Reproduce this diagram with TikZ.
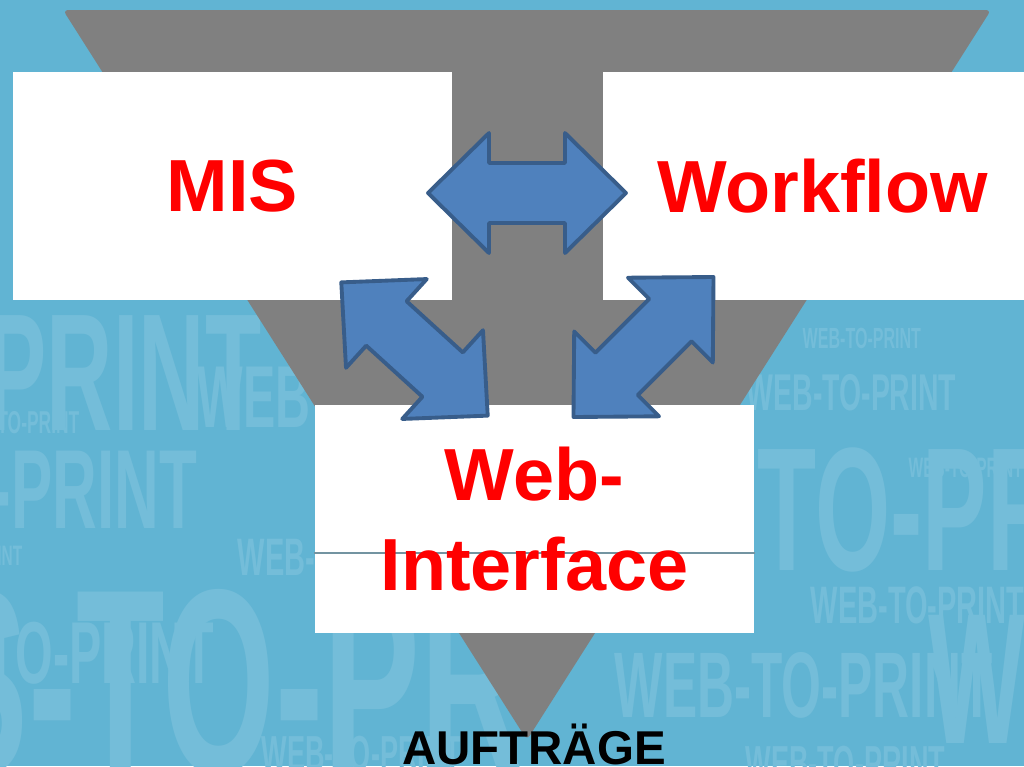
\documentclass[tikz,border=0pt]{standalone}
\usepackage{fontspec}
\setmainfont{Liberation Sans}
\newfontfamily\wmfont{Liberation Sans}[FakeStretch=0.55]
\usepackage{tikz}
\usetikzlibrary{positioning}

\definecolor{bgblue}{HTML}{61B4D3}
\definecolor{wmblue}{HTML}{74BDD9}
\definecolor{funnelgray}{HTML}{808080}
\definecolor{arrfill}{HTML}{4F81BD}
\definecolor{arredge}{HTML}{385D8A}
\definecolor{labelred}{HTML}{FF0000}

\begin{document}
\begin{tikzpicture}[
    x=0.01cm, y=-0.01cm,
    box/.style={rectangle, fill=white, inner sep=0pt, minimum width=4.39cm, minimum height=2.28cm},
    boxlabel/.style={text=labelred, font=\bfseries\fontsize{21}{25.5}\selectfont, align=center},
    wm/.style={text=wmblue, inner sep=0pt},
    funnel/.style={fill=funnelgray, rounded corners=1.5pt},
    seam/.style={draw=gray!60!bgblue, line width=0.4pt},
    blockarrow/.style={fill=arrfill, draw=arredge, line width=1.1pt, line join=round},
    dblarrow/.pic={
        \path[blockarrow] (-99,0) -- (-38,-60) -- (-38,-30) -- (38,-30) -- (38,-60)
            -- (99,0) -- (38,60) -- (38,30) -- (-38,30) -- (-38,60) -- cycle;
    }
]
    % Background
    \clip (0,0) rectangle (1024,766);
    \fill[bgblue] (0,0) rectangle (1024,766);
    \foreach \x/\y/\s/\a/\t [count=\i] in {
        -15/430/47.5/base west/PRINT,
        197/427/25/base west/WEB,
        80/433/9/base east/WEB-TO-PRINT,
        -10/528/32/base west/-PRINT,
        23/565/8/base east/WEB-TO-PRINT,
        237/575/15/base west/WEB-TO-PRINT,
        -69/773/75/base west/S-TO-PR,
        215/683/25/base east/WEB-TO-PRINT,
        261/770/14/base west/WEB-TO-PRINT,
        802/348/8.3/base west/WEB-TO-PRINT,
        957/410/14.7/base east/WEB-TO-PRINT,
        757/570/50/base west/TO-PRINT,
        908/477/8/base west/WEB-TO-PRINT,
        810/623/15/base west/WEB-TO-PRINT,
        614/717/26.5/base west/WEB-TO-PRINT,
        745/780/14/base west/WEB-TO-PRINT,
        928/743/53/base west/W}
        \node[wm, anchor=\a, font=\wmfont\bfseries\fontsize{\s}{\s}\selectfont] (wm\i) at (\x,\y) {\t};

    % Funnel
    \path[funnel] (63,10) -- (991,10) -- (527,740) -- cycle;

    % Boxes
    \node[box, boxlabel] (mis) at (232.5,186) {MIS};
    \node[box, boxlabel] (workflow) at (822.5,186) {Workflow};
    \node[box] (webif) at (534.5,519) {};
    \coordinate (seamy) at (0,553);
    \draw[seam] (webif.west |- seamy) -- (webif.east |- seamy);
    \node[boxlabel] (webiftext) at (webif) {Web-\\Interface};

    % Arrows
    \pic (arrtop) at (527,193) {dblarrow};
    \pic[rotate=-42.3] (arrleft) at (414.5,349) {dblarrow};
    \pic[rotate=45] (arrright) at (643.5,347) {dblarrow};

    % Output
    \node[font=\bfseries\fontsize{13.5}{16}\selectfont, anchor=base, inner sep=0pt] (orders) at (534,764) {AUFTRÄGE};
\end{tikzpicture}
\end{document}
